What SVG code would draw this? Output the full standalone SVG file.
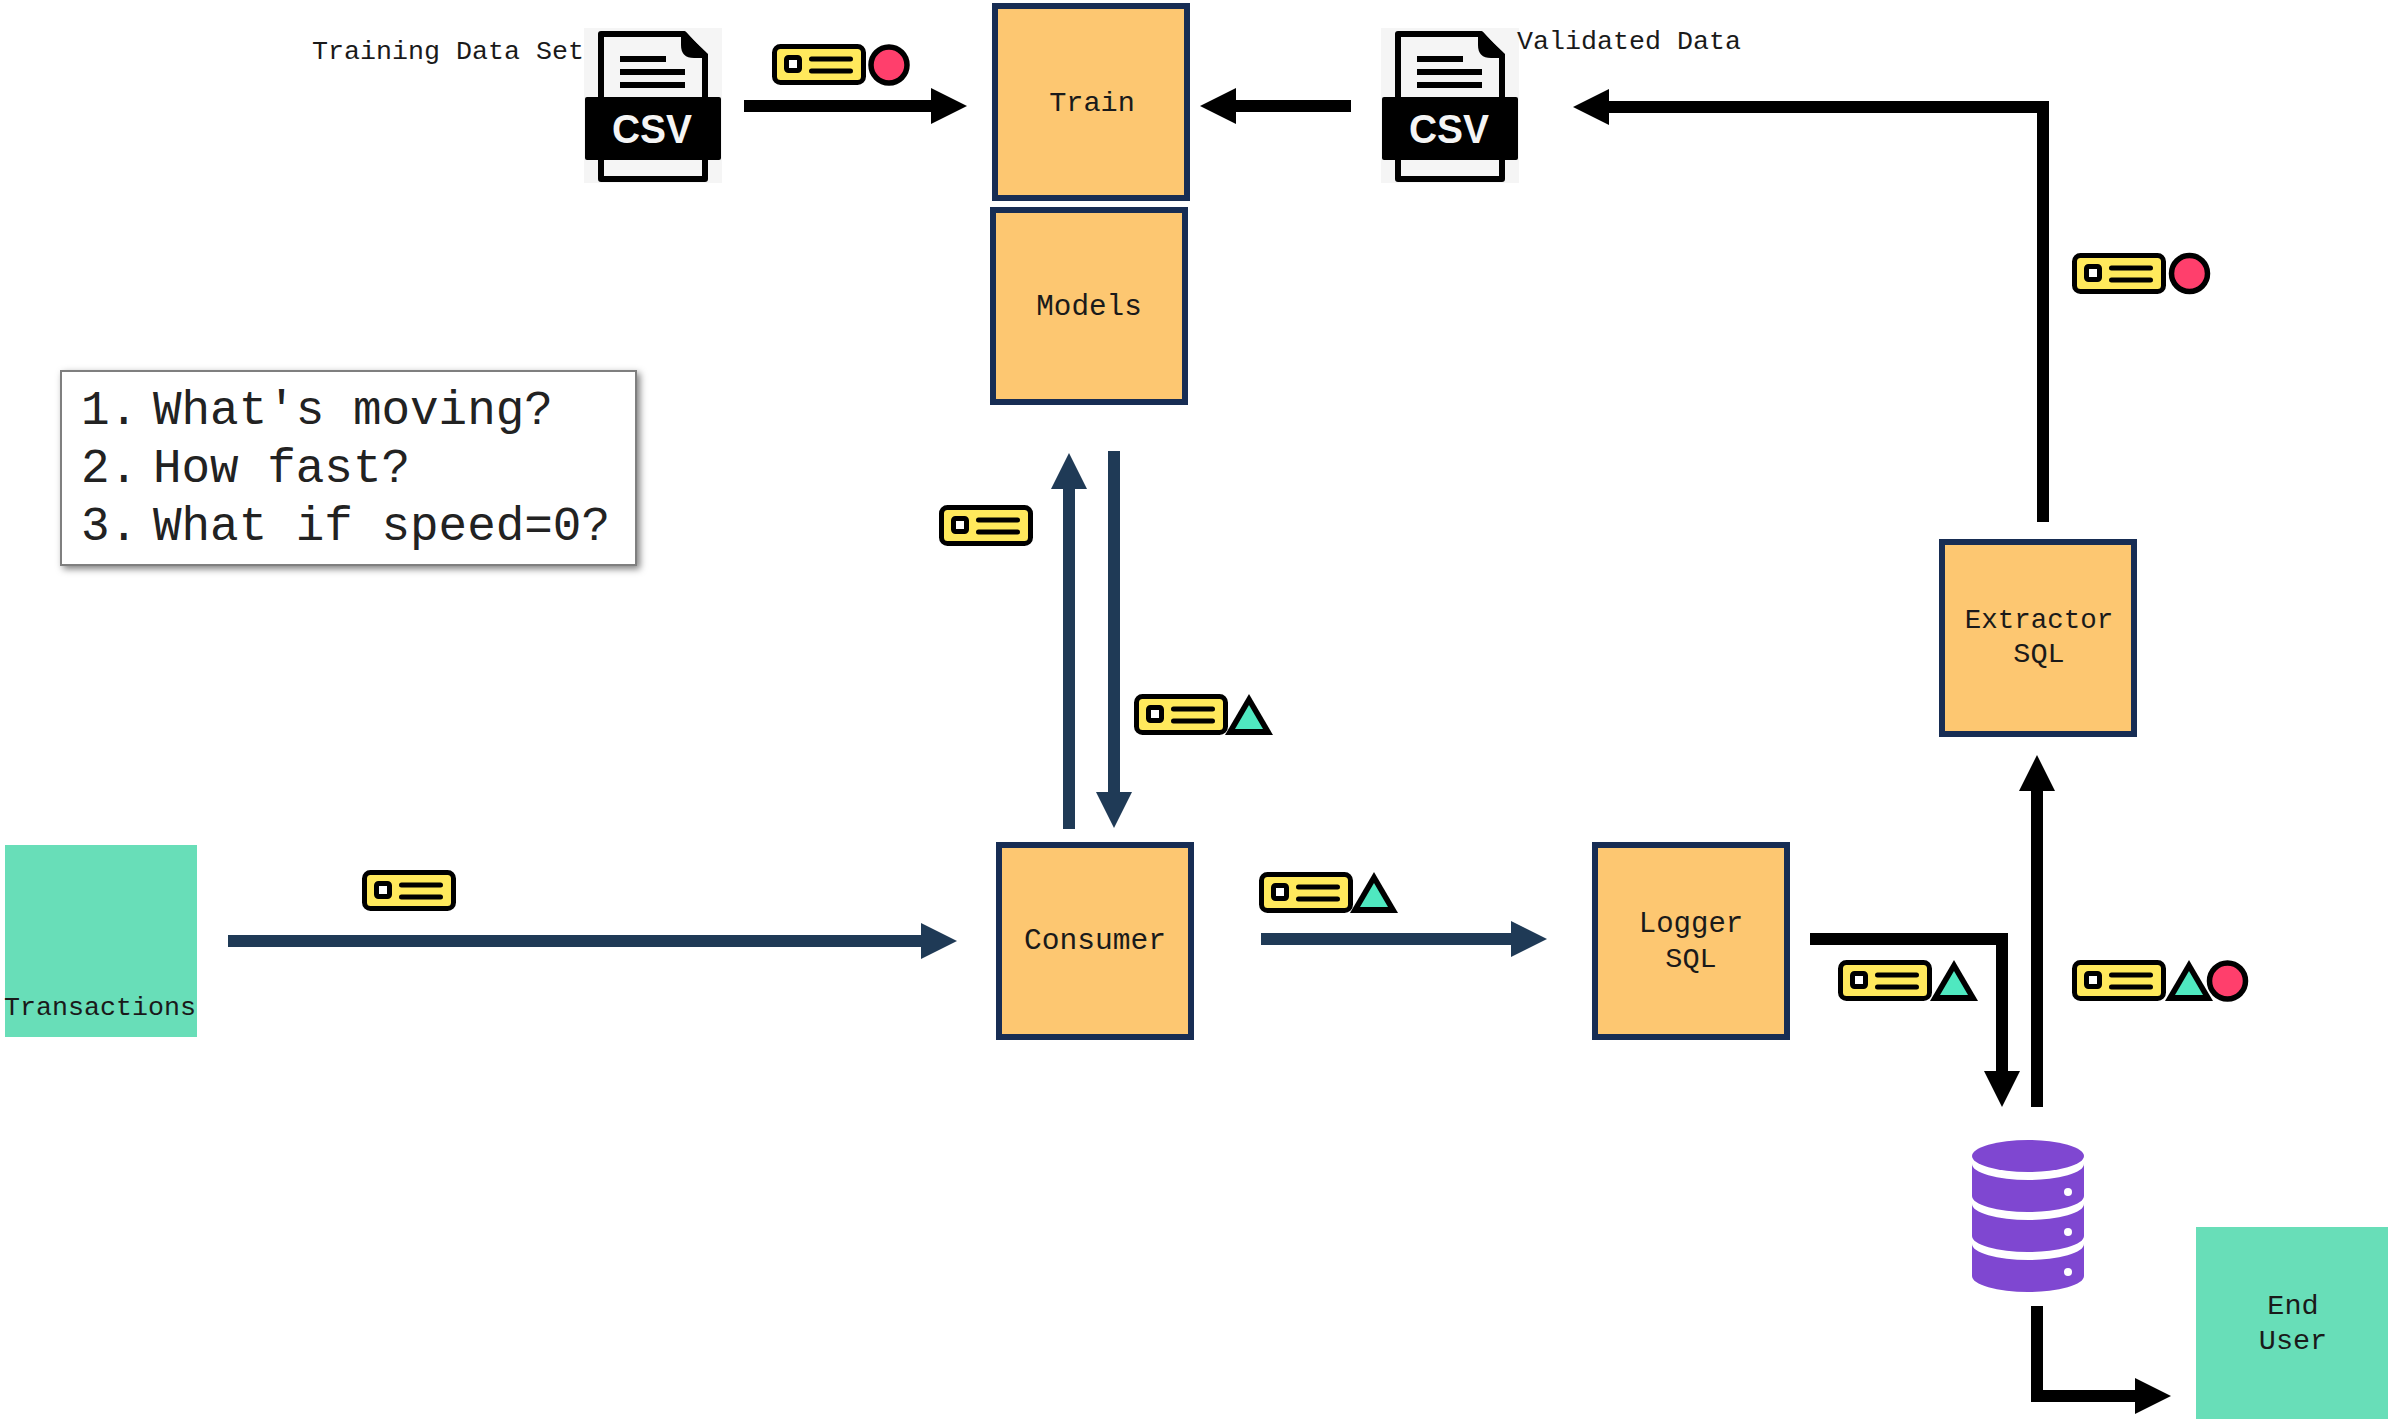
<svg xmlns="http://www.w3.org/2000/svg" width="2395" height="1424" viewBox="0 0 2395 1424">
<style>
.mono{font-family:"Liberation Mono",monospace;fill:#1a1a1a}
.lbl{font-size:28.5px;text-anchor:middle}
.cap{font-size:26.67px}
.note{font-size:47.6px;fill:#222}
.box{fill:#FDC771;stroke:#172D54;stroke-width:6}
.ext{fill:#68DEB8}
.conn{fill:none;stroke-width:12;stroke-linejoin:miter}
.navy{stroke:#1F3A56}
.blk{stroke:#000}
.csv{font-family:"Liberation Sans",Arial,sans-serif;font-weight:700;font-size:41px;fill:#F5F5F5;text-anchor:middle}
.db{fill:#7F47D1}
</style>
<defs>
<marker id="hn" markerUnits="userSpaceOnUse" markerWidth="36" markerHeight="36" refX="0" refY="18" orient="auto"><path d="M0 0L36 18L0 36Z" fill="#1F3A56"/></marker>
<marker id="hb" markerUnits="userSpaceOnUse" markerWidth="36" markerHeight="36" refX="0" refY="18" orient="auto"><path d="M0 0L36 18L0 36Z" fill="#000"/></marker>
<g id="card">
<rect x="2.5" y="2.5" width="89" height="36" rx="6" fill="#FFE95C" stroke="#000" stroke-width="5"/>
<rect x="14.5" y="13.5" width="13" height="13" rx="2" fill="#fff" stroke="#000" stroke-width="5"/>
<path d="M39.5 15H78.5M39.5 27H78.5" stroke="#000" stroke-width="5" stroke-linecap="round" fill="none"/>
</g>
<g id="tri"><path d="M0 41L24 0L48 41Z" fill="#000"/><path d="M10 35L24 11L38 35Z" fill="#4FE8C0"/></g>
<circle id="dot" r="18" fill="#FF3F6C" stroke="#000" stroke-width="5.5"/>
<g id="doc">
<rect width="138" height="155" fill="#F5F5F5"/>
<path d="M17 6H100L121 29V151H17Z" fill="#F5F5F5" stroke="#000" stroke-width="6" stroke-linejoin="round"/>
<path d="M97 6L100 3L124 26V30H110Q97 30 97 17Z" fill="#000"/>
<rect x="1" y="69" width="136" height="63" rx="2" fill="#000"/>
<path d="M36 31H82M36 44H101M36 57H101" stroke="#000" stroke-width="6" fill="none"/>
</g>
</defs>
<rect width="2395" height="1424" fill="#fff"/>

<g id="connectors">
<path class="conn blk" d="M744 106H931" marker-end="url(#hb)"/>
<path class="conn blk" d="M2043 522V107H1609" marker-end="url(#hb)"/>
<path class="conn blk" d="M1351 106H1236" marker-end="url(#hb)"/>
<path class="conn navy" d="M228 941H921" marker-end="url(#hn)"/>
<path class="conn navy" d="M1261 939H1511" marker-end="url(#hn)"/>
<path class="conn navy" d="M1069 829V489" marker-end="url(#hn)"/>
<path class="conn navy" d="M1114 451V792" marker-end="url(#hn)"/>
<path class="conn blk" d="M1810 939H2002V1071" marker-end="url(#hb)"/>
<path class="conn blk" d="M2037 1107V791" marker-end="url(#hb)"/>
<path class="conn blk" d="M2037 1306V1396H2135" marker-end="url(#hb)"/>
</g>

<g id="tokens">
<g id="token-training"><use href="#card" x="772" y="44"/><use href="#dot" x="889" y="65"/></g>
<g id="token-validated"><use href="#card" x="2072" y="253"/><use href="#dot" x="2189.5" y="273.5"/></g>
<g id="token-up"><use href="#card" x="939" y="505"/></g>
<g id="token-down"><use href="#card" x="1134" y="694"/><use href="#tri" x="1225" y="694"/></g>
<g id="token-transactions"><use href="#card" x="362" y="870"/></g>
<g id="token-consumer"><use href="#card" x="1259" y="872"/><use href="#tri" x="1350" y="872"/></g>
<g id="token-logger"><use href="#card" x="1838" y="960"/><use href="#tri" x="1930" y="960"/></g>
<g id="token-extract"><use href="#card" x="2072" y="960"/><use href="#tri" x="2165" y="960"/><use href="#dot" x="2227.5" y="981"/></g>
</g>

<g id="training-csv">
<use href="#doc" x="584" y="28"/>
<text class="csv" x="652" y="143" textLength="80" lengthAdjust="spacingAndGlyphs">CSV</text>
<text class="mono cap" x="312" y="59">Training Data Set</text>
</g>
<g id="validated-csv">
<use href="#doc" x="1381" y="28"/>
<text class="csv" x="1449" y="143" textLength="80" lengthAdjust="spacingAndGlyphs">CSV</text>
<text class="mono cap" x="1517" y="49">Validated Data</text>
</g>
<g id="train"><rect class="box" x="995" y="6" width="192" height="192"/><text class="mono lbl" x="1092" y="111">Train</text></g>
<g id="models"><rect class="box" x="993" y="210" width="192" height="192"/><text class="mono lbl" x="1089" y="315" style="font-size:29.3px">Models</text></g>
<g id="consumer"><rect class="box" x="999" y="845" width="192" height="192"/><text class="mono lbl" x="1095" y="949" style="font-size:29.6px">Consumer</text></g>
<g id="logger"><rect class="box" x="1595" y="845" width="192" height="192"/><text class="mono lbl" x="1691" y="932" style="font-size:29px">Logger</text><text class="mono lbl" x="1691" y="967">SQL</text></g>
<g id="extractor"><rect class="box" x="1942" y="542" width="192" height="192"/><text class="mono lbl" x="2039" y="628" style="font-size:27.5px">Extractor</text><text class="mono lbl" x="2039" y="662">SQL</text></g>
<g id="transactions"><rect class="ext" x="5" y="845" width="192" height="192"/><text class="mono cap" x="4" y="1015">Transactions</text></g>
<g id="end-user"><rect class="ext" x="2196" y="1227" width="192" height="192"/><text class="mono lbl" x="2293" y="1314">End</text><text class="mono lbl" x="2293" y="1349">User</text></g>
<g id="database" class="db" transform="translate(0 1)">
<ellipse cx="2028" cy="1155" rx="56" ry="16"/>
<path d="M1972 1163A56 16 0 0 0 2084 1163V1195A56 16 0 0 1 1972 1195Z"/>
<path d="M1972 1203A56 16 0 0 0 2084 1203V1235A56 16 0 0 1 1972 1235Z"/>
<path d="M1972 1243A56 16 0 0 0 2084 1243V1275A56 16 0 0 1 1972 1275Z"/>
<circle cx="2068" cy="1191" r="4" fill="#fff"/><circle cx="2068" cy="1231" r="4" fill="#fff"/><circle cx="2068" cy="1271" r="4" fill="#fff"/>
</g>
<filter id="sh" x="-5%" y="-5%" width="112%" height="115%"><feDropShadow dx="3" dy="3" stdDeviation="3.5" flood-color="#000" flood-opacity="0.5"/></filter>
<g id="note">
<rect x="61" y="371" width="575" height="194" fill="#fff" stroke="#7F7F7F" stroke-width="2" filter="url(#sh)"/>
<text class="mono note" x="81" y="424">1.</text><text class="mono note" x="153" y="424">What's moving?</text>
<text class="mono note" x="81" y="482">2.</text><text class="mono note" x="153" y="482">How fast?</text>
<text class="mono note" x="81" y="540">3.</text><text class="mono note" x="153" y="540">What if speed=0?</text>
</g>
</svg>
